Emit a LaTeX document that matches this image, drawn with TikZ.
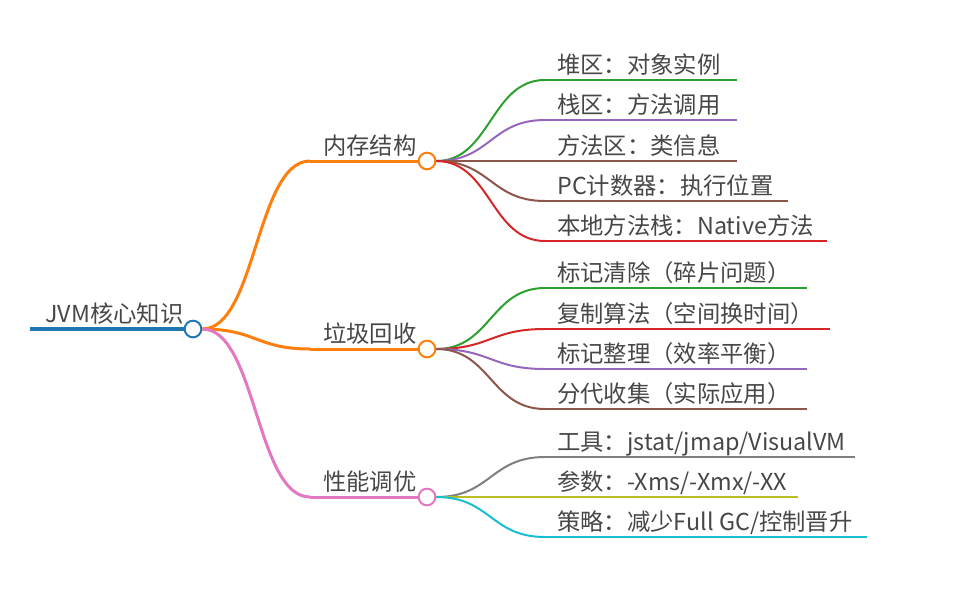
\documentclass[tikz,border=0pt]{standalone}
\usepackage{fontspec}
\setmainfont{Noto Sans CJK SC}
\usetikzlibrary{calc}
\definecolor{mmBlue}{HTML}{1F77B4}
\definecolor{mmOrange}{HTML}{FF7F0E}
\definecolor{mmGreen}{HTML}{2CA02C}
\definecolor{mmRed}{HTML}{D62728}
\definecolor{mmPurple}{HTML}{9467BD}
\definecolor{mmBrown}{HTML}{8C564B}
\definecolor{mmPink}{HTML}{E377C2}
\definecolor{mmGray}{HTML}{7F7F7F}
\definecolor{mmOlive}{HTML}{BCBD22}
\definecolor{mmCyan}{HTML}{17BECF}

\begin{document}
\begin{tikzpicture}[x=0.75pt, y=-0.75pt,
    every node/.style={font=\fontsize{17.5}{20}\selectfont, text=black!72, inner sep=0pt},
    lbl/.style={anchor=base west},
    dot/.style={circle, draw=#1, fill=white, line width=1.5pt, minimum size=12.5pt, inner sep=0pt},
    edge0/.style={line width=3pt},
    edge1/.style={line width=2.25pt},
    edge2/.style={line width=1.5pt}
]
\useasboundingbox (0,0) rectangle (974,600);
% curved link, controls at the middle x
\newcommand{\branch}[3]{\draw[#3] let \p1=(#1), \p2=(#2) in
    (\p1) .. controls ({(\x1+\x2)/2},\y1) and ({(\x1+\x2)/2},\y2) .. (\p2);}
% leaf: name, parent, y, x end, colour, text
\newcommand{\leaf}[6]{%
    \coordinate (#1s) at (545,#3); \coordinate (#1e) at (#4,#3);
    \branch{#2.east}{#1s}{#5, edge2}
    \draw[#5, edge2] (#1s) -- (#1e);
    \node[lbl] (#1) at (557,#3-7) {#6};}

% root
\coordinate (rootS) at (30,329);
\node[lbl] (rootT) at (45,322) {JVM核心知识};
\draw[mmBlue, edge0] (rootS) -- (185,329);
\node[dot=mmBlue] (root) at (193,329) {};

% first level
\coordinate (memS) at (310,161);
\coordinate (gcS) at (310,349);
\coordinate (perfS) at (310,497);
\branch{root.east}{memS}{mmOrange, edge1}
\branch{root.east}{gcS}{mmOrange, edge1}
\branch{root.east}{perfS}{mmPink, edge1}
\draw[mmOrange, edge1] (memS) -- (420,161);
\draw[mmOrange, edge1] (gcS) -- (420,349);
\draw[mmPink, edge1] (perfS) -- (420,497);
\node[dot=mmOrange] (mem) at (427,161) {};
\node[dot=mmOrange] (gc) at (427,349) {};
\node[dot=mmPink] (perf) at (427,497) {};
\node[lbl] (memT) at (323,154) {内存结构};
\node[lbl] (gcT) at (323,342) {垃圾回收};
\node[lbl] (perfT) at (323,490) {性能调优};

% leaves
\leaf{heap}{mem}{80}{737}{mmGreen}{堆区：对象实例}
\leaf{stack}{mem}{120}{737}{mmPurple}{栈区：方法调用}
\leaf{meth}{mem}{161}{737}{mmBrown}{方法区：类信息}
\leaf{pc}{mem}{201}{788}{mmBrown}{PC计数器：执行位置}
\leaf{native}{mem}{241}{827}{mmRed}{本地方法栈：Native方法}

\leaf{mark}{gc}{288}{807}{mmGreen}{标记清除（碎片问题）}
\leaf{copy}{gc}{329}{830}{mmRed}{复制算法（空间换时间）}
\leaf{compact}{gc}{369}{807}{mmPurple}{标记整理（效率平衡）}
\leaf{gen}{gc}{409}{807}{mmBrown}{分代收集（实际应用）}

\leaf{tool}{perf}{457}{855}{mmGray}{工具：jstat/jmap/VisualVM}
\leaf{param}{perf}{497}{798}{mmOlive}{参数：-Xms/-Xmx/-XX}
\leaf{policy}{perf}{537}{867}{mmCyan}{策略：减少Full GC/控制晋升}
\end{tikzpicture}
\end{document}
